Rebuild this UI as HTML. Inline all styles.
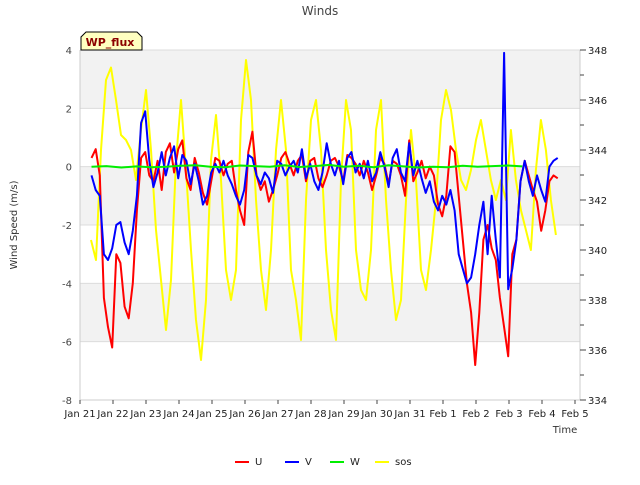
<!DOCTYPE html>
<html><head><meta charset="utf-8"><style>
body{margin:0;background:#fff;font-family:"Liberation Sans","DejaVu Sans",sans-serif}
svg text{font-family:"DejaVu Sans","Liberation Sans",sans-serif}
</style></head><body>
<svg id="c" width="640" height="480" xmlns="http://www.w3.org/2000/svg"></svg>
<script>
const xTickLabels=["Jan 21","Jan 22","Jan 23","Jan 24","Jan 25","Jan 26","Jan 27","Jan 28","Jan 29","Jan 30","Jan 31","Feb 1","Feb 2","Feb 3","Feb 4","Feb 5"];
const yTicksLeft=[4,2,0,-2,-4,-6,-8];
const yTicksRight=[348,346,344,342,340,338,336,334];
const uvStart=0.35, uvStep=0.125;
const uValues=[0.3,0.6,-0.3,-4.5,-5.5,-6.2,-3.0,-3.3,-4.8,-5.2,-4.0,-1.5,0.3,0.5,-0.3,-0.5,0.2,-0.8,0.5,0.8,-0.2,0.6,0.9,-0.4,-0.8,0.3,-0.2,-0.9,-1.3,-0.5,0.3,0.2,-0.3,0.1,0.2,-0.8,-1.5,-2.0,0.5,1.2,-0.3,-0.8,-0.5,-1.2,-0.8,-0.3,0.3,0.5,0.1,-0.3,0.2,0.4,-0.5,0.2,0.3,-0.4,-0.7,-0.3,0.2,0.3,0.0,-0.5,0.4,0.3,0.1,-0.3,0.2,-0.2,-0.8,-0.3,0.3,0.1,-0.6,0.2,0.1,-0.3,-1.0,0.9,-0.5,-0.2,0.2,-0.4,0.0,-0.3,-1.3,-1.7,-1.0,0.7,0.5,-1.0,-2.5,-4.0,-5.0,-6.8,-5.0,-2.5,-2.0,-2.8,-3.2,-4.5,-5.5,-6.5,-3.0,-2.5,-0.5,0.2,-0.3,-0.8,-1.2,-2.2,-1.5,-0.5,-0.3,-0.4];
const vValues=[-0.3,-0.8,-1.0,-3.0,-3.2,-2.8,-2.0,-1.9,-2.6,-3.0,-2.2,-1.0,1.5,1.9,0.2,-0.7,-0.2,0.5,-0.3,0.3,0.7,-0.4,0.4,0.2,-0.6,0.1,-0.5,-1.3,-1.0,-0.2,0.1,-0.2,0.2,-0.3,-0.6,-1.0,-1.3,-0.8,0.4,0.3,-0.3,-0.6,-0.2,-0.4,-0.9,0.2,0.1,-0.3,0.0,0.2,-0.2,0.6,-0.4,0.1,-0.5,-0.8,-0.2,0.8,0.1,-0.3,0.2,-0.6,0.3,0.5,-0.2,0.1,-0.4,0.2,-0.5,-0.2,0.5,0.0,-0.7,0.3,0.6,-0.2,-0.5,0.8,-0.3,0.2,-0.4,-0.9,-0.5,-1.2,-1.5,-1.0,-1.3,-0.8,-1.5,-3.0,-3.5,-4.0,-3.8,-3.0,-2.0,-1.2,-3.0,-1.0,-2.5,-3.8,3.9,-4.2,-3.5,-2.5,-0.5,0.2,-0.5,-1.0,-0.3,-0.8,-1.2,0.0,0.2,0.3];
const wStart=0.35, wStep=0.45;
const wValues=[0.0,0.02,-0.03,0.01,-0.02,0.0,0.03,0.05,0.0,-0.02,0.04,0.02,0.0,0.05,-0.01,0.02,0.06,0.0,0.03,-0.02,0.05,0.01,-0.03,0.0,-0.02,0.03,0.0,0.02,0.04,0.01];
const sosStart=0.333, sosStep=0.1515;
const sosValues=[340.4,339.6,344.0,346.8,347.3,346.0,344.6,344.4,344.0,342.8,344.8,346.4,344.0,340.8,338.8,336.8,338.8,343.6,346.0,343.2,340.0,337.2,335.6,338.0,343.6,345.4,342.8,339.2,338.0,339.2,345.2,347.6,346.0,342.0,339.2,337.6,340.0,344.0,346.0,344.0,339.2,338.0,336.4,342.0,345.2,346.0,344.0,340.0,337.6,336.4,342.8,346.0,344.8,340.0,338.4,338.0,340.0,344.8,346.0,342.0,339.2,337.2,338.0,342.0,344.8,342.8,339.2,338.4,340.0,342.0,345.2,346.4,345.6,344.0,342.8,342.4,343.2,344.4,345.2,344.0,342.8,342.0,342.8,342.0,344.8,342.8,341.6,340.8,340.0,343.2,345.2,344.0,342.0,340.6];

const L=80,R=580,T=50,B=400;
const xS=d=>L+d*33;
const yL=v=>T+(4-v)*(B-T)/12;
const yR=v=>T+(348-v)*(B-T)/14;
const svg=document.getElementById('c');
const NS='http://www.w3.org/2000/svg';
function mk(tag,attrs,name,txt){const e=document.createElementNS(NS,tag);for(const k in attrs)e.setAttribute(k,attrs[k]);


if(txt!==undefined)e.textContent=txt;svg.appendChild(e);return e;}
mk('rect',{x:L,y:T,width:R-L,height:B-T,fill:'#fff'},'plot-area');
for(let i=0;i<6;i+=2){mk('rect',{x:L,y:yL(4-2*i),width:R-L,height:yL(2)-yL(4),fill:'#f2f2f2'},'grid-band');}
yTicksLeft.forEach(v=>{mk('line',{x1:L,x2:R,y1:yL(v),y2:yL(v),stroke:'#dcdcdc'},'grid-line');
mk('text',{x:L-8,y:yL(v)+4,'text-anchor':'end','font-size':10,fill:'#444'},'y-tick-label',String(v));});
mk('line',{x1:L,x2:L,y1:T,y2:B,stroke:'#ccc'},'left-axis');
mk('line',{x1:R,x2:R,y1:T,y2:B,stroke:'#ccc'},'right-axis');
mk('line',{x1:L,x2:R,y1:B,y2:B,stroke:'#ccc'},'x-axis');
for(let v=334;v<=348;v++){mk('line',{x1:R,x2:R+(v%2?4:6),y1:yR(v),y2:yR(v),stroke:'#444'},'right-tick');}
yTicksRight.forEach(v=>mk('text',{x:R+8,y:yR(v)+4,'font-size':10,fill:'#222'},'right-tick-label',String(v)));
xTickLabels.forEach((s,i)=>{mk('line',{x1:xS(i),x2:xS(i),y1:B,y2:B+4,stroke:'#444'},'x-tick');
mk('text',{x:xS(i),y:B+17,'text-anchor':'middle','font-size':10,fill:'#222'},'x-tick-label',s);});
mk('text',{x:565,y:433,'text-anchor':'middle','font-size':10,fill:'#333'},'x-axis-title','Time');
mk('text',{x:17,y:225,'text-anchor':'middle','font-size':10,fill:'#333',transform:'rotate(-90 17 225)'},'y-axis-title','Wind Speed (m/s)');
mk('text',{x:320,y:15,'text-anchor':'middle','font-size':12,fill:'#444'},'chart-title','Winds');
function line(vals,t0,dt,ys,color,name){const p=vals.map((v,i)=>xS(t0+i*dt).toFixed(1)+','+ys(v).toFixed(1)).join(' ');
mk('polyline',{points:p,fill:'none',stroke:color,'stroke-width':2,'stroke-linejoin':'round'},name);}
line(sosValues,sosStart,sosStep,yR,'#ffff00','series-sos');
line(uValues,uvStart,uvStep,yL,'#ff0000','series-u');
line(vValues,uvStart,uvStep,yL,'#0000ff','series-v');
line(wValues,wStart,wStep,yL,'#00ee00','series-w');
mk('path',{d:'M81,50 L81,37 L86,32 L137,32 L142,37 L142,50 Z',fill:'#ffffc0',stroke:'#000'},'wp-flux-badge');
mk('text',{x:110,y:46,'text-anchor':'middle','font-size':11,'font-weight':'bold',fill:'#8b0000'},'wp-flux-label','WP_flux');
const leg=[['U','#ff0000',235],['V','#0000ff',285],['W','#00ee00',330],['sos','#ffff00',375]];
leg.forEach(([n,c,x])=>{mk('line',{x1:x,x2:x+14,y1:462,y2:462,stroke:c,'stroke-width':2},'legend-swatch-'+n.toLowerCase());
mk('text',{x:x+20,y:465,'font-size':10,fill:'#222'},'legend-entry-'+n.toLowerCase(),n);});
</script>
</body></html>
